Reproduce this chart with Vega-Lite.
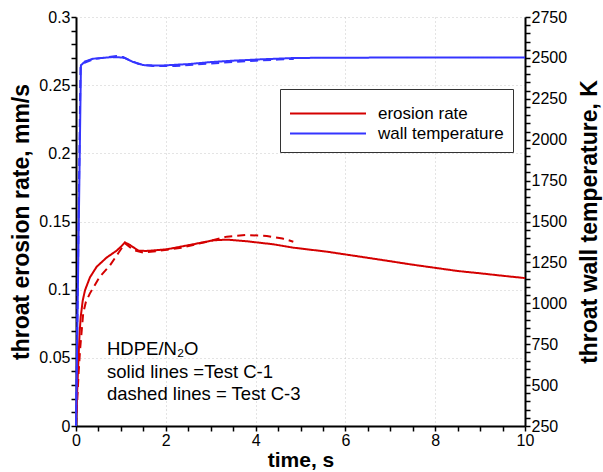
{
  "$schema": "https://vega.github.io/schema/vega-lite/v6.json",
  "width": 449,
  "height": 409,
  "autosize": {"type": "none"},
  "padding": {"left": 76, "top": 17, "right": 78, "bottom": 46},
  "background": "white",
  "config": {
    "font": "Liberation Sans",
    "view": {"stroke": null},
    "axis": {
      "domainColor": "black",
      "domainWidth": 2,
      "tickColor": "black",
      "tickWidth": 1.5,
      "tickSize": 5,
      "labelColor": "black",
      "labelFontSize": 16,
      "labelPadding": 1,
      "labelFlush": false,
      "labelOverlap": false,
      "labelBound": false,
      "titleColor": "black",
      "titleFontWeight": "bold",
      "titleFontSize": 23,
      "gridColor": "#c8c8c8",
      "gridDash": [1, 3],
      "gridWidth": 1
    }
  },
  "datasets": {
    "erosion": [
      {"t": 0, "v": 0.0, "test": "C-1", "series": "erosion rate"},
      {"t": 0.02, "v": 0.02, "test": "C-1", "series": "erosion rate"},
      {"t": 0.05, "v": 0.045, "test": "C-1", "series": "erosion rate"},
      {"t": 0.08, "v": 0.068, "test": "C-1", "series": "erosion rate"},
      {"t": 0.105, "v": 0.08, "test": "C-1", "series": "erosion rate"},
      {"t": 0.15, "v": 0.092, "test": "C-1", "series": "erosion rate"},
      {"t": 0.2, "v": 0.0995, "test": "C-1", "series": "erosion rate"},
      {"t": 0.31, "v": 0.109, "test": "C-1", "series": "erosion rate"},
      {"t": 0.46, "v": 0.1168, "test": "C-1", "series": "erosion rate"},
      {"t": 0.68, "v": 0.1235, "test": "C-1", "series": "erosion rate"},
      {"t": 0.9, "v": 0.1285, "test": "C-1", "series": "erosion rate"},
      {"t": 1.0, "v": 0.1315, "test": "C-1", "series": "erosion rate"},
      {"t": 1.09, "v": 0.1347, "test": "C-1", "series": "erosion rate"},
      {"t": 1.2, "v": 0.1328, "test": "C-1", "series": "erosion rate"},
      {"t": 1.39, "v": 0.1286, "test": "C-1", "series": "erosion rate"},
      {"t": 1.57, "v": 0.1284, "test": "C-1", "series": "erosion rate"},
      {"t": 2.02, "v": 0.1296, "test": "C-1", "series": "erosion rate"},
      {"t": 2.61, "v": 0.1333, "test": "C-1", "series": "erosion rate"},
      {"t": 3.06, "v": 0.1362, "test": "C-1", "series": "erosion rate"},
      {"t": 3.36, "v": 0.1367, "test": "C-1", "series": "erosion rate"},
      {"t": 3.8, "v": 0.1355, "test": "C-1", "series": "erosion rate"},
      {"t": 4.39, "v": 0.1333, "test": "C-1", "series": "erosion rate"},
      {"t": 4.84, "v": 0.1308, "test": "C-1", "series": "erosion rate"},
      {"t": 5.58, "v": 0.1279, "test": "C-1", "series": "erosion rate"},
      {"t": 6.33, "v": 0.1242, "test": "C-1", "series": "erosion rate"},
      {"t": 7.07, "v": 0.1205, "test": "C-1", "series": "erosion rate"},
      {"t": 7.44, "v": 0.1186, "test": "C-1", "series": "erosion rate"},
      {"t": 8.0, "v": 0.116, "test": "C-1", "series": "erosion rate"},
      {"t": 8.5, "v": 0.1137, "test": "C-1", "series": "erosion rate"},
      {"t": 9.0, "v": 0.112, "test": "C-1", "series": "erosion rate"},
      {"t": 9.5, "v": 0.1102, "test": "C-1", "series": "erosion rate"},
      {"t": 10.0, "v": 0.1085, "test": "C-1", "series": "erosion rate"},
      {"t": 0, "v": 0.0, "test": "C-3", "series": "erosion rate"},
      {"t": 0.03, "v": 0.02, "test": "C-3", "series": "erosion rate"},
      {"t": 0.06, "v": 0.04, "test": "C-3", "series": "erosion rate"},
      {"t": 0.09, "v": 0.0557, "test": "C-3", "series": "erosion rate"},
      {"t": 0.16, "v": 0.0826, "test": "C-3", "series": "erosion rate"},
      {"t": 0.22, "v": 0.091, "test": "C-3", "series": "erosion rate"},
      {"t": 0.31, "v": 0.0973, "test": "C-3", "series": "erosion rate"},
      {"t": 0.53, "v": 0.1095, "test": "C-3", "series": "erosion rate"},
      {"t": 0.76, "v": 0.118, "test": "C-3", "series": "erosion rate"},
      {"t": 0.94, "v": 0.1267, "test": "C-3", "series": "erosion rate"},
      {"t": 1.09, "v": 0.134, "test": "C-3", "series": "erosion rate"},
      {"t": 1.28, "v": 0.129, "test": "C-3", "series": "erosion rate"},
      {"t": 1.5, "v": 0.1272, "test": "C-3", "series": "erosion rate"},
      {"t": 1.87, "v": 0.1286, "test": "C-3", "series": "erosion rate"},
      {"t": 2.35, "v": 0.1308, "test": "C-3", "series": "erosion rate"},
      {"t": 2.98, "v": 0.1357, "test": "C-3", "series": "erosion rate"},
      {"t": 3.36, "v": 0.1389, "test": "C-3", "series": "erosion rate"},
      {"t": 3.8, "v": 0.1401, "test": "C-3", "series": "erosion rate"},
      {"t": 4.25, "v": 0.1394, "test": "C-3", "series": "erosion rate"},
      {"t": 4.6, "v": 0.1375, "test": "C-3", "series": "erosion rate"},
      {"t": 4.84, "v": 0.1352, "test": "C-3", "series": "erosion rate"}
    ],
    "temperature": [
      {"t": 0, "T": 250, "test": "C-1", "series": "wall temperature"},
      {"t": 0.11, "T": 2455, "test": "C-1", "series": "wall temperature"},
      {"t": 0.2, "T": 2478, "test": "C-1", "series": "wall temperature"},
      {"t": 0.38, "T": 2495, "test": "C-1", "series": "wall temperature"},
      {"t": 0.6, "T": 2500, "test": "C-1", "series": "wall temperature"},
      {"t": 0.8, "T": 2505, "test": "C-1", "series": "wall temperature"},
      {"t": 1.0, "T": 2503, "test": "C-1", "series": "wall temperature"},
      {"t": 1.09, "T": 2499, "test": "C-1", "series": "wall temperature"},
      {"t": 1.27, "T": 2475, "test": "C-1", "series": "wall temperature"},
      {"t": 1.5, "T": 2456, "test": "C-1", "series": "wall temperature"},
      {"t": 1.87, "T": 2453, "test": "C-1", "series": "wall temperature"},
      {"t": 2.5, "T": 2462, "test": "C-1", "series": "wall temperature"},
      {"t": 2.98, "T": 2474, "test": "C-1", "series": "wall temperature"},
      {"t": 3.5, "T": 2483, "test": "C-1", "series": "wall temperature"},
      {"t": 4.1, "T": 2491, "test": "C-1", "series": "wall temperature"},
      {"t": 4.83, "T": 2499, "test": "C-1", "series": "wall temperature"},
      {"t": 5.5, "T": 2501, "test": "C-1", "series": "wall temperature"},
      {"t": 7.0, "T": 2502, "test": "C-1", "series": "wall temperature"},
      {"t": 10.0, "T": 2502, "test": "C-1", "series": "wall temperature"},
      {"t": 0, "T": 250, "test": "C-3", "series": "wall temperature"},
      {"t": 0.1, "T": 2440, "test": "C-3", "series": "wall temperature"},
      {"t": 0.2, "T": 2472, "test": "C-3", "series": "wall temperature"},
      {"t": 0.4, "T": 2492, "test": "C-3", "series": "wall temperature"},
      {"t": 0.7, "T": 2505, "test": "C-3", "series": "wall temperature"},
      {"t": 0.9, "T": 2511, "test": "C-3", "series": "wall temperature"},
      {"t": 1.05, "T": 2505, "test": "C-3", "series": "wall temperature"},
      {"t": 1.2, "T": 2485, "test": "C-3", "series": "wall temperature"},
      {"t": 1.4, "T": 2463, "test": "C-3", "series": "wall temperature"},
      {"t": 1.7, "T": 2450, "test": "C-3", "series": "wall temperature"},
      {"t": 2.2, "T": 2450, "test": "C-3", "series": "wall temperature"},
      {"t": 3.0, "T": 2466, "test": "C-3", "series": "wall temperature"},
      {"t": 3.5, "T": 2475, "test": "C-3", "series": "wall temperature"},
      {"t": 4.0, "T": 2483, "test": "C-3", "series": "wall temperature"},
      {"t": 4.5, "T": 2490, "test": "C-3", "series": "wall temperature"},
      {"t": 4.85, "T": 2494, "test": "C-3", "series": "wall temperature"}
    ],
    "notes": [
      {"t": 0.69, "v": 0.052, "label": "HDPE/N₂O"},
      {"t": 0.69, "v": 0.0352, "label": "solid lines =Test C-1"},
      {"t": 0.69, "v": 0.0191, "label": "dashed lines = Test C-3"}
    ]
  },
  "encoding": {
    "x": {
      "field": "t",
      "type": "quantitative",
      "scale": {"domain": [0, 10], "nice": false, "zero": false},
      "axis": {
        "title": "time, s",
        "titleFontSize": 21,
        "titlePadding": 1,
        "values": [0, 0.5, 1, 1.5, 2, 2.5, 3, 3.5, 4, 4.5, 5, 5.5, 6, 6.5, 7, 7.5, 8, 8.5, 9, 9.5, 10],
        "labelExpr": "datum.value % 2 == 0 ? format(datum.value, 'd') : ''",
        "grid": true,
        "gridOpacity": {"condition": {"test": "datum.value % 2 == 0 && datum.value > 0 && datum.value < 10", "value": 1}, "value": 0}
      }
    }
  },
  "layer": [
    {
      "data": {"name": "erosion"},
      "mark": {"type": "line", "strokeWidth": 2},
      "encoding": {
        "y": {
          "field": "v",
          "type": "quantitative",
          "scale": {"domain": [0, 0.3], "nice": false},
          "axis": {
            "orient": "left",
            "title": "throat erosion rate, mm/s",
            "titlePadding": 5,
            "values": [0, 0.01, 0.02, 0.03, 0.04, 0.05, 0.06, 0.07, 0.08, 0.09, 0.1, 0.11, 0.12, 0.13, 0.14, 0.15, 0.16, 0.17, 0.18, 0.19, 0.2, 0.21, 0.22, 0.23, 0.24, 0.25, 0.26, 0.27, 0.28, 0.29, 0.3],
            "labelExpr": "abs(datum.value * 20 - round(datum.value * 20)) < 0.0001 ? format(datum.value, '~g') : ''",
            "grid": true,
            "gridOpacity": {"condition": {"test": "abs(datum.value * 20 - round(datum.value * 20)) < 0.0001 && datum.value > 0", "value": 1}, "value": 0}
          }
        },
        "color": {
          "field": "series",
          "type": "nominal",
          "scale": {"domain": ["erosion rate", "wall temperature"], "range": ["#d40000", "#3535ff"]},
          "legend": {
            "orient": "none",
            "legendX": 204,
            "legendY": 72,
            "title": " ",
            "titleFontSize": 4,
            "titlePadding": 2,
            "symbolType": "stroke",
            "symbolSize": 5776,
            "symbolStrokeWidth": 2,
            "labelFontSize": 17,
            "labelColor": "black",
            "labelOffset": 11,
            "clipHeight": 19,
            "rowPadding": 1,
            "padding": 9,
            "strokeColor": "#333333",
            "fillColor": "white",
            "cornerRadius": 0
          }
        },
        "strokeDash": {
          "field": "test",
          "type": "nominal",
          "scale": {"domain": ["C-1", "C-3"], "range": [[1, 0], [8, 5]]},
          "legend": null
        }
      }
    },
    {
      "data": {"name": "temperature"},
      "mark": {"type": "line", "strokeWidth": 2},
      "encoding": {
        "y": {
          "field": "T",
          "type": "quantitative",
          "scale": {"domain": [250, 2750], "nice": false, "zero": false},
          "axis": {
            "orient": "right",
            "title": "throat wall temperature, K",
            "titleAngle": 270,
            "titleBaseline": "top",
            "titlePadding": 12,
            "values": [250, 300, 350, 400, 450, 500, 550, 600, 650, 700, 750, 800, 850, 900, 950, 1000, 1050, 1100, 1150, 1200, 1250, 1300, 1350, 1400, 1450, 1500, 1550, 1600, 1650, 1700, 1750, 1800, 1850, 1900, 1950, 2000, 2050, 2100, 2150, 2200, 2250, 2300, 2350, 2400, 2450, 2500, 2550, 2600, 2650, 2700, 2750],
            "labelExpr": "datum.value % 250 == 0 ? format(datum.value, 'd') : ''",
            "grid": false
          }
        },
        "color": {"field": "series", "type": "nominal"},
        "strokeDash": {"field": "test", "type": "nominal"}
      }
    },
    {
      "data": {"name": "notes"},
      "mark": {"type": "text", "align": "left", "baseline": "alphabetic", "fontSize": 18.5, "color": "black"},
      "encoding": {
        "y": {"field": "v", "type": "quantitative", "scale": {"domain": [0, 0.3], "nice": false}, "axis": null},
        "text": {"field": "label"}
      }
    }
  ],
  "resolve": {"scale": {"y": "independent"}}
}
